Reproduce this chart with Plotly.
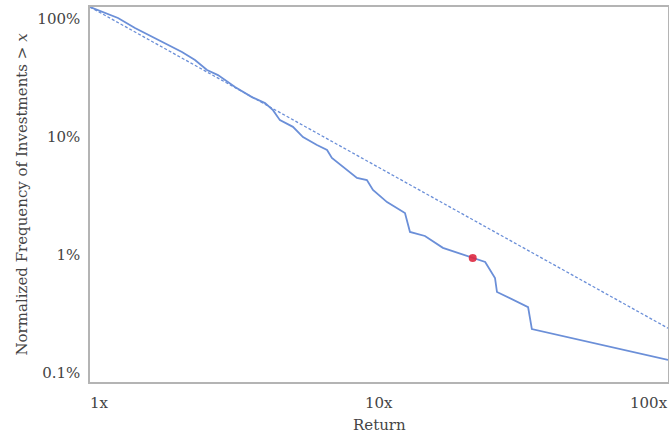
import math
import plotly.graph_objects as go

# Empirical distribution (return multiple vs. % of investments with return > x)
returns = [1.0, 1.127, 1.25, 1.431, 1.639, 1.862, 2.081, 2.308, 2.54, 2.772, 3.175,
           3.634, 4.033, 4.297, 4.541, 5.038, 5.458, 6.10, 6.61, 6.87, 7.50, 8.39,
           9.08, 9.53, 10.66, 11.54, 12.30, 12.80, 14.42, 16.64, 21.1, 23.3, 25.2,
           25.6, 32.8, 33.8, 100.0]
freq_pct = [126.5, 112.4, 102.0, 83.9, 70.4, 60.3, 52.5, 45.0, 37.0, 33.5, 26.5,
            21.8, 19.4, 16.9, 13.9, 12.2, 10.0, 8.55, 7.76, 6.64, 5.57, 4.50,
            4.32, 3.56, 2.81, 2.50, 2.27, 1.57, 1.45, 1.15, 0.944, 0.873, 0.639,
            0.486, 0.362, 0.236, 0.129]

# Power-law fit (dashed)
fit_returns = [1.0, 100.0]
fit_pct = [126.5, 0.240]

# Highlighted point
dot_return = [21.1]
dot_pct = [0.944]

x_tick_vals = [1, 10, 100]
x_tick_text = ["1x", "10x", "100x"]
y_tick_vals = [0.1, 1, 10, 100]
y_tick_text = ["0.1%", "1%", "10%", "100%"]

line_color = "#6b8fd8"
font_family = "DejaVu Serif"
text_color = "#444444"

fig = go.Figure()
fig.add_trace(go.Scatter(x=fit_returns, y=fit_pct, mode="lines",
                         line=dict(color=line_color, width=1.3, dash="3px,2px"),
                         hoverinfo="skip", showlegend=False))
fig.add_trace(go.Scatter(x=returns, y=freq_pct, mode="lines",
                         line=dict(color=line_color, width=1.8),
                         showlegend=False))
fig.add_trace(go.Scatter(x=dot_return, y=dot_pct, mode="markers",
                         marker=dict(color="rgba(222,40,64,0.9)", size=8),
                         showlegend=False))

anchors = ["left", "center", "right"]
for v, t, a in zip(x_tick_vals, x_tick_text, anchors):
    fig.add_annotation(x=math.log10(v), y=0, xref="x", yref="paper",
                       text=t, showarrow=False, xanchor=a, yanchor="top", yshift=-12,
                       borderpad=0, borderwidth=0,
                       font=dict(family=font_family, size=15, color=text_color))

# x-axis title
fig.add_annotation(x=0.5, y=0, xref="paper", yref="paper", text="Return",
                   showarrow=False, xanchor="center", yanchor="middle", yshift=-43,
                   borderpad=0, borderwidth=0,
                   font=dict(family=font_family, size=15, color=text_color))

fig.update_layout(
    width=669, height=440,
    margin=dict(l=90, r=1, t=7, b=58, autoexpand=False),
    paper_bgcolor="white", plot_bgcolor="white",
    font=dict(family=font_family, size=15, color=text_color),
    xaxis=dict(type="log", range=[0, 2], showgrid=False, zeroline=False,
               automargin=False,
               showline=True, mirror=True, linecolor="#b4b4b4", linewidth=1.5,
               tickvals=x_tick_vals, showticklabels=False, ticks=""),
    yaxis=dict(type="log", range=[-1.076, 2.102], showgrid=False, zeroline=False,
               automargin=False,
               showline=True, mirror=True, linecolor="#b4b4b4", linewidth=1.5,
               tickvals=y_tick_vals, ticktext=y_tick_text, ticks="",
               ticklabelstandoff=5,
               title=dict(text="Normalized Frequency of Investments &gt; <i>x</i>",
                          standoff=6,
                          font=dict(family=font_family, size=15, color=text_color))),
)

fig.write_html("out.html", config={"displayModeBar": False},
               post_script="document.body.style.margin='0';document.body.style.overflow='hidden';")
